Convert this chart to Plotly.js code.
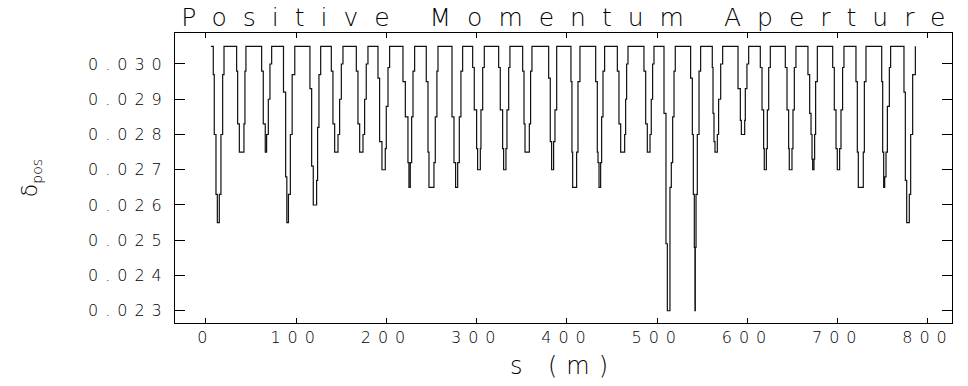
<!DOCTYPE html>
<html><head><meta charset="utf-8">
<script src="https://cdn.plot.ly/plotly-3.0.1.min.js"></script>
<style>
body{margin:0;background:#fff}
#wrap{position:relative;width:968px;height:386px}
#chart{width:968px;height:386px}
.gtitle{letter-spacing:16px}
.xtick text,.ytick text{letter-spacing:7px}
.g-xtitle text{letter-spacing:9px}
#ybox{position:absolute;left:8px;top:33px;width:46px;height:290px;display:flex;align-items:center;justify-content:center}
#ylab{font-family:"DejaVu Sans",sans-serif;font-weight:200;font-size:22px;color:#000;white-space:nowrap;line-height:1;
  writing-mode:vertical-rl;transform:rotate(180deg)}
@supports (writing-mode: sideways-lr){ #ylab{writing-mode:sideways-lr;transform:none} }
#ylab sub{font-size:14px;vertical-align:-5px}
</style></head><body><div id="wrap"><div id="chart"></div><div id="ybox"><div id="ylab"></div></div></div>
<script>
// s positions (m) where the step curve changes value, and the value from there on
const sPos = [
  5.5,
  8.1, 9.2, 11.1, 12.6, 14.8, 16.6, 18.5, 20.0,
  34.0, 35.1, 37.0, 42.1, 43.2, 44.3,
  61.7, 63.5, 65.7, 67.2, 69.1, 70.9, 72.8,
  85.9, 88.3, 89.6, 91.4, 93.5, 95.5, 98.4,
  115.2, 117.1, 118.9, 122.6, 123.7, 125.2, 127.1,
  138.9, 140.7, 142.6, 146.3, 148.1, 150.0, 151.8,
  166.6, 168.4, 170.3, 174.0, 175.8, 177.6, 179.5,
  190.6, 192.4, 195.0, 198.7, 199.8, 201.7, 203.5,
  218.3, 220.9, 223.8, 224.9, 226.4, 227.9, 229.4, 231.2,
  244.1, 246.0, 247.1, 252.6, 254.1, 255.9, 257.1,
  272.6, 274.8, 276.6, 278.9, 280.7, 282.5, 284.4,
  295.5, 297.3, 299.9, 301.0, 304.0, 304.7, 306.6, 308.4,
  324.3, 326.1, 328.7, 329.8, 332.4, 333.5, 335.4, 336.8,
  350.9, 352.4, 353.5, 358.3, 359.7, 361.2,
  379.7, 381.5, 383.0, 385.2, 386.7, 388.6,
  404.4, 405.5, 406.3, 410.7, 412.2, 414.4,
  431.8, 433.6, 434.4, 435.5, 437.3, 438.4, 439.9, 441.7,
  455.8, 457.6, 459.5, 463.9, 465.0, 466.1, 467.6,
  485.3, 487.2, 489.0, 492.0, 493.4, 494.9, 496.4,
  507.5, 509.7, 511.2, 514.1, 515.6, 517.1, 518.6, 520.0,
  537.0, 538.9, 540.0, 541.1, 541.8, 542.2, 543.0, 544.4, 546.3, 548.1,
  561.0, 561.8, 562.9, 564.0, 566.6, 568.0, 570.3, 572.5,
  589.5, 592.1, 593.2, 596.9, 597.6, 599.4, 601.3,
  614.2, 616.1, 617.9, 618.6, 620.9, 622.0, 623.5, 625.3,
  641.9, 643.8, 645.6, 646.3, 649.3, 650.4, 651.9, 653.7,
  667.0, 668.9, 670.4, 671.5, 672.2, 673.7, 674.4, 675.5, 677.4,
  694.4, 696.2, 698.1, 699.5, 702.1, 703.6, 705.4, 706.9,
  720.2, 721.7, 722.8, 728.3, 729.5, 731.3,
  748.7, 749.8, 750.9, 752.0, 753.5, 755.0, 757.2, 758.6,
  773.4, 774.9, 776.4, 779.3, 780.8, 783.0, 786.0
];
const deltaPos = [
  0.0305,
  0.0297, 0.0280, 0.0263, 0.0255, 0.0263, 0.0280, 0.0297, 0.0305,
  0.0298, 0.0283, 0.0275, 0.0283, 0.0298, 0.0305,
  0.0298, 0.0283, 0.0275, 0.0280, 0.0290, 0.0300, 0.0305,
  0.0292, 0.0268, 0.0255, 0.0263, 0.0280, 0.0297, 0.0305,
  0.0293, 0.0271, 0.0260, 0.0267, 0.0282, 0.0297, 0.0305,
  0.0298, 0.0283, 0.0275, 0.0280, 0.0290, 0.0300, 0.0305,
  0.0298, 0.0283, 0.0275, 0.0280, 0.0290, 0.0300, 0.0305,
  0.0296, 0.0278, 0.0270, 0.0276, 0.0288, 0.0299, 0.0305,
  0.0295, 0.0285, 0.0272, 0.0265, 0.0272, 0.0285, 0.0298, 0.0305,
  0.0295, 0.0275, 0.0265, 0.0272, 0.0285, 0.0298, 0.0305,
  0.0285, 0.0272, 0.0265, 0.0272, 0.0285, 0.0298, 0.0305,
  0.0299, 0.0287, 0.0276, 0.0270, 0.0276, 0.0287, 0.0299, 0.0305,
  0.0299, 0.0287, 0.0276, 0.0270, 0.0276, 0.0287, 0.0299, 0.0305,
  0.0298, 0.0283, 0.0275, 0.0283, 0.0298, 0.0305,
  0.0296, 0.0278, 0.0270, 0.0278, 0.0287, 0.0305,
  0.0295, 0.0275, 0.0265, 0.0275, 0.0295, 0.0305,
  0.0295, 0.0275, 0.0272, 0.0265, 0.0272, 0.0285, 0.0298, 0.0305,
  0.0298, 0.0283, 0.0275, 0.0280, 0.0290, 0.0300, 0.0305,
  0.0298, 0.0283, 0.0275, 0.0280, 0.0290, 0.0300, 0.0305,
  0.0286, 0.0249, 0.0230, 0.0265, 0.0272, 0.0285, 0.0298, 0.0305,
  0.0296, 0.0280, 0.0263, 0.0248, 0.0230, 0.0248, 0.0263, 0.0280, 0.0298, 0.0305,
  0.0299, 0.0286, 0.0278, 0.0275, 0.0280, 0.0290, 0.0300, 0.0305,
  0.0293, 0.0284, 0.0280, 0.0284, 0.0293, 0.0300, 0.0305,
  0.0299, 0.0287, 0.0276, 0.0270, 0.0276, 0.0287, 0.0299, 0.0305,
  0.0299, 0.0287, 0.0276, 0.0270, 0.0276, 0.0287, 0.0299, 0.0305,
  0.0297, 0.0286, 0.0280, 0.0273, 0.0270, 0.0273, 0.0280, 0.0295, 0.0305,
  0.0299, 0.0287, 0.0276, 0.0270, 0.0276, 0.0287, 0.0299, 0.0305,
  0.0295, 0.0275, 0.0265, 0.0275, 0.0295, 0.0305,
  0.0295, 0.0275, 0.0265, 0.0268, 0.0275, 0.0288, 0.0299, 0.0305,
  0.0292, 0.0267, 0.0255, 0.0263, 0.0280, 0.0297, 0.0305
];
const xTickVals = [0, 100, 200, 300, 400, 500, 600, 700, 800];
const yTickVals = [0.023, 0.024, 0.025, 0.026, 0.027, 0.028, 0.029, 0.030];
const titleText = 'Positive Momentum Aperture';
const xTitleText = 's (m)';
const yTitleMain = 'δ';
const yTitleSub = 'pos';

const FONT = '"DejaVu Sans", sans-serif';
const trace = {
  x: sPos, y: deltaPos, type: 'scatter', mode: 'lines',
  line: {shape: 'hv', color: '#111', width: 1.2},
  hoverinfo: 'skip'
};
const layout = {
  width: 968, height: 386,
  margin: {l: 175, r: 16, t: 33, b: 63},
  paper_bgcolor: '#fff', plot_bgcolor: '#fff',
  showlegend: false,
  title: {text: titleText, font: {family: FONT, size: 25, color: '#000', weight: 200},
          xref: 'paper', x: 0.51, xanchor: 'center', yref: 'container', y: 0.955, yanchor: 'middle'},
  xaxis: {
    range: [-34.3, 826.6], tickvals: xTickVals, ticktext: xTickVals.map(String),
    ticks: 'inside', ticklen: 5, tickcolor: '#000', showline: true, linecolor: '#000', linewidth: 1,
    mirror: 'ticks', showgrid: false, zeroline: false,
    tickfont: {family: FONT, size: 16, color: '#000', weight: 200},
    title: {text: xTitleText, font: {family: FONT, size: 24, color: '#000', weight: 200}, standoff: 10}
  },
  yaxis: {
    range: [0.022652, 0.030879], tickvals: yTickVals, ticktext: yTickVals.map(v => v.toFixed(3)),
    ticks: 'inside', ticklen: 10, tickcolor: '#000', showline: true, linecolor: '#000', linewidth: 1,
    mirror: 'ticks', showgrid: false, zeroline: false, ticklabelstandoff: 2,
    tickfont: {family: FONT, size: 16, color: '#000', weight: 200}
  }
};
Plotly.newPlot('chart', [trace], layout, {staticPlot: true, displayModeBar: false});
const yl = document.getElementById('ylab');
yl.appendChild(document.createTextNode(yTitleMain));
const sb = document.createElement('sub');
sb.textContent = yTitleSub;
yl.appendChild(sb);
</script></body></html>
